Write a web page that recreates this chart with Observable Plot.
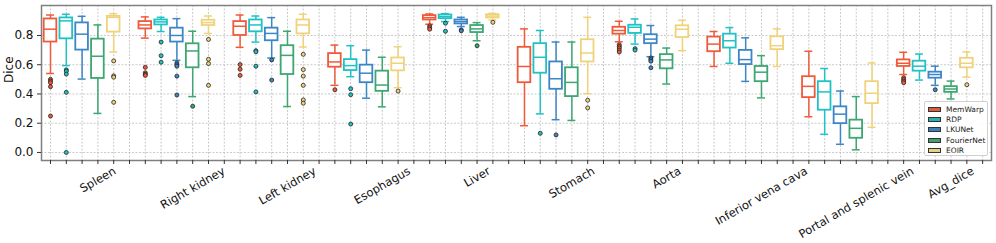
<!DOCTYPE html>
<html><head><meta charset="utf-8">
<script src="https://cdn.jsdelivr.net/npm/d3@7"></script>
<script src="https://cdn.jsdelivr.net/npm/@observablehq/plot@0.6"></script>
<style>
body{margin:0;background:#fff;}
#wrap{position:relative;width:996px;height:243px;font-family:"DejaVu Sans",sans-serif;}
.legend{position:absolute;left:924px;top:101px;width:64px;height:55px;border:1px solid #d0d0d0;border-radius:2px;background:rgba(255,255,255,0.9);box-sizing:border-box;padding-top:2px;}
.legend .row{display:flex;align-items:center;height:10.4px;font-size:7.5px;color:#222;}
.legend .sw{width:13px;height:5px;margin-left:3px;margin-right:5px;border:0.8px solid #333;box-sizing:border-box;}
</style></head><body><div id="wrap"></div>
<script>
const organs = ["Spleen","Right kidney","Left kidney","Esophagus","Liver","Stomach","Aorta","Inferior vena cava","Portal and splenic vein","Avg_dice"];
const methods = ["MemWarp","RDP","LKUNet","FourierNet","EOIR"];
const boxColors = ["#f05a3a","#1fc2c5","#3d86c6","#3da672","#f0d27a"];
const legendColors = ["#dc5a3e","#2aaeb0","#3f7fb8","#4a9b6f","#e6cf80"];
const yTicks = [0, 0.2, 0.4, 0.6, 0.8];

// per organ: [lower whisker, Q1, median, Q3, upper whisker]
const MemWarp = [
  [0.54,0.755,0.843,0.913,0.94],[0.782,0.845,0.872,0.895,0.927],[0.719,0.80,0.863,0.895,0.94],
  [0.459,0.583,0.619,0.676,0.734],[0.877,0.906,0.922,0.936,0.947],[0.183,0.477,0.588,0.719,0.845],
  [0.757,0.809,0.834,0.856,0.897],[0.588,0.689,0.741,0.789,0.827],[0.244,0.375,0.452,0.518,0.692],
  [0.533,0.588,0.61,0.633,0.685]];
const RDP = [
  [0.594,0.777,0.90,0.92,0.945],[0.827,0.872,0.893,0.906,0.924],[0.755,0.825,0.872,0.906,0.933],
  [0.518,0.56,0.594,0.635,0.73],[0.895,0.915,0.929,0.94,0.949],[0.264,0.542,0.651,0.744,0.834],
  [0.741,0.814,0.856,0.87,0.913],[0.61,0.714,0.764,0.809,0.854],[0.124,0.289,0.414,0.484,0.574],
  [0.495,0.556,0.59,0.624,0.673]];
const LKUNet = [
  [0.502,0.70,0.809,0.886,0.931],[0.63,0.755,0.80,0.85,0.915],[0.646,0.764,0.814,0.85,0.922],
  [0.371,0.477,0.542,0.597,0.70],[0.861,0.879,0.895,0.906,0.924],[0.224,0.432,0.504,0.619,0.755],
  [0.655,0.744,0.775,0.805,0.868],[0.486,0.601,0.635,0.698,0.784],[0.056,0.197,0.262,0.312,0.42],
  [0.459,0.508,0.533,0.549,0.59]];
const FourierNet = [
  [0.267,0.506,0.658,0.775,0.872],[0.382,0.579,0.694,0.743,0.829],[0.314,0.533,0.664,0.73,0.829],
  [0.312,0.418,0.461,0.556,0.651],[0.764,0.82,0.845,0.868,0.888],[0.219,0.382,0.479,0.579,0.755],
  [0.468,0.572,0.633,0.669,0.714],[0.373,0.484,0.549,0.588,0.662],[0.018,0.097,0.165,0.221,0.382],
  [0.366,0.411,0.434,0.45,0.488]];
const EOIR = [
  [0.687,0.823,0.924,0.931,0.949],[0.814,0.868,0.888,0.904,0.933],[0.721,0.811,0.872,0.906,0.945],
  [0.443,0.558,0.61,0.646,0.723],[0.906,0.92,0.933,0.942,0.951],[0.402,0.619,0.68,0.771,0.924],
  [0.696,0.786,0.843,0.866,0.904],[0.588,0.703,0.73,0.791,0.845],[0.172,0.334,0.405,0.484,0.612],
  [0.515,0.579,0.61,0.644,0.687]];

// outliers per organ
const MemWarpOut = [[0.50,0.488,0.477,0.45,0.249],[0.582,0.545,0.535,0.527],[0.601,0.569,0.527],[0.429],[0.866,0.854,0.843],[],[0.737,0.725,0.714,0.70,0.687],[],[],[0.511,0.499,0.488,0.477]];
const RDPOut = [[0.565,0.556,0.536,0.411,0.0],[0.755,0.662,0.617],[0.696,0.689,0.59,0.414],[0.436,0.395,0.194],[0.884,0.829],[0.131],[0.71,0.70],[],[],[]];
const LKUNetOut = [[],[0.612,0.60,0.59,0.522,0.393],[0.633,0.495],[],[0.838,0.832],[0.12],[0.646,0.635,0.624,0.579],[],[],[0.429]];
const FourierNetOut = [[],[0.316],[],[],[0.73],[],[],[],[],[]];
const EOIROut = [[0.626,0.524,0.515,0.343],[0.773,0.637,0.608,0.459],[0.671,0.567,0.522,0.459,0.359,0.337],[0.42],[0.89],[0.357,0.305],[],[],[],[0.463]];

const stats = [MemWarp, RDP, LKUNet, FourierNet, EOIR];
const outs = [MemWarpOut, RDPOut, LKUNetOut, FourierNetOut, EOIROut];
const boxes = [], fliers = [];
methods.forEach((m, mi) => organs.forEach((o, oi) => {
  const [low, q1, med, q3, high] = stats[mi][oi];
  const s = oi * 6 + mi;
  boxes.push({method: m, s, low, q1, med, q3, high});
  outs[mi][oi].forEach(v => fliers.push({method: m, s, v}));
}));

const ctx = document.createElement("canvas").getContext("2d");
ctx.font = "11.5px 'DejaVu Sans'";
const labelMarks = organs.map((name, i) => {
  const w = ctx.measureText(name).width;
  const hb = 0.5 * w + 0.866 * 10.5;
  return Plot.text([name], {x: () => i * 6 + 3, text: d => d, frameAnchor: "bottom",
    rotate: -30, textAnchor: "middle", lineAnchor: "middle", dy: 5 + hb / 2, fontSize: 11.5, fill: "#111"});
});

const sw = 1.5;
const chart = Plot.plot({
  width: 996, height: 243,
  marginLeft: 41, marginRight: 5, marginTop: 5, marginBottom: 83,
  style: {fontFamily: "DejaVu Sans", fontSize: "11px", background: "#fff"},
  x: {domain: [-0.57, 59.56], axis: null},
  y: {domain: [-0.055, 1.005], axis: null},
  color: {domain: methods, range: boxColors},
  marks: [
    Plot.gridX(d3.range(60), {stroke: "#bdbdbd", strokeOpacity: 1, strokeWidth: 0.8, strokeDasharray: "2,1.5"}),
    Plot.gridY(yTicks, {stroke: "#bdbdbd", strokeOpacity: 1, strokeWidth: 0.8, strokeDasharray: "2,1.5"}),
    Plot.ruleX(boxes, {x: "s", y1: "low", y2: "q1", stroke: "method", strokeWidth: sw}),
    Plot.ruleX(boxes, {x: "s", y1: "q3", y2: "high", stroke: "method", strokeWidth: sw}),
    Plot.ruleY(boxes, {y: "low", x1: d => d.s - 0.25, x2: d => d.s + 0.25, stroke: "method", strokeWidth: sw}),
    Plot.ruleY(boxes, {y: "high", x1: d => d.s - 0.25, x2: d => d.s + 0.25, stroke: "method", strokeWidth: sw}),
    Plot.rect(boxes, {x1: d => d.s - 0.4, x2: d => d.s + 0.4, y1: "q1", y2: "q3", fill: "white", stroke: "method", strokeWidth: 1.8}),
    Plot.ruleY(boxes, {y: "med", x1: d => d.s - 0.4, x2: d => d.s + 0.4, stroke: "method", strokeWidth: sw}),
    Plot.dot(fliers, {x: "s", y: "v", fill: "method", stroke: "#222", strokeWidth: 0.8, r: 2}),
    Plot.frame({stroke: "#808080", strokeWidth: 1.5}),
    Plot.axisY(yTicks, {tickFormat: d3.format(".1f"), tickSize: 4, tickPadding: 4, fontSize: 12, label: null, stroke: "#333", fill: "#111"}),
    Plot.axisX(d3.range(60), {tickFormat: () => "", tickSize: 4, label: null, stroke: "#333"}),
    Plot.text(["Dice"], {text: d => d, frameAnchor: "left", rotate: -90, dx: -32, fontSize: 12, fill: "#111"}),
    ...labelMarks
  ]
});
const wrap = document.getElementById("wrap");
wrap.appendChild(chart);
const legend = document.createElement("div");
legend.className = "legend";
methods.forEach((m, i) => {
  const row = document.createElement("div");
  row.className = "row";
  const s = document.createElement("span");
  s.className = "sw";
  s.style.background = legendColors[i];
  const t = document.createElement("span");
  t.textContent = m;
  row.appendChild(s); row.appendChild(t);
  legend.appendChild(row);
});
wrap.appendChild(legend);
</script></body></html>
